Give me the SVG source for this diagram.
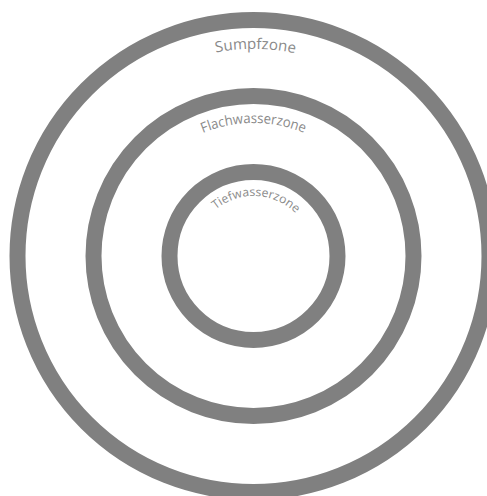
<svg xmlns="http://www.w3.org/2000/svg" width="487" height="496" viewBox="0 0 487 496">
<style>
.ring{fill:none;stroke:#808080;stroke-width:16}
.lbl{font-family:"Open Sans","Liberation Sans",sans-serif;fill:#8a8a8a;text-anchor:middle}
</style>
<defs>
<path id="a1" d="M 46.5 256 A 207 207 0 0 1 460.5 256"/>
<path id="a2" d="M 120.5 256 A 133 133 0 0 1 386.5 256"/>
<path id="a3" d="M 193.5 256 A 60 60 0 0 1 313.5 256"/>
</defs>
<rect width="487" height="496" fill="#fff"/>
<g id="sumpfzone">
<circle class="ring" cx="253.5" cy="256" r="236"/>
<text class="lbl" font-size="15"><textPath href="#a1" startOffset="50.3%" textLength="80" lengthAdjust="spacingAndGlyphs">Sumpfzone</textPath></text>
</g>
<g id="flachwasserzone">
<circle class="ring" cx="253.5" cy="256" r="160"/>
<text class="lbl" font-size="14"><textPath href="#a2" startOffset="50%" textLength="104" lengthAdjust="spacingAndGlyphs">Flachwasserzone</textPath></text>
</g>
<g id="tiefwasserzone">
<circle class="ring" cx="253.5" cy="256" r="84"/>
<text class="lbl" font-size="12"><textPath href="#a3" startOffset="51.5%" textLength="88" lengthAdjust="spacingAndGlyphs">Tiefwasserzone</textPath></text>
</g>
<g id="connectors"/>
</svg>
